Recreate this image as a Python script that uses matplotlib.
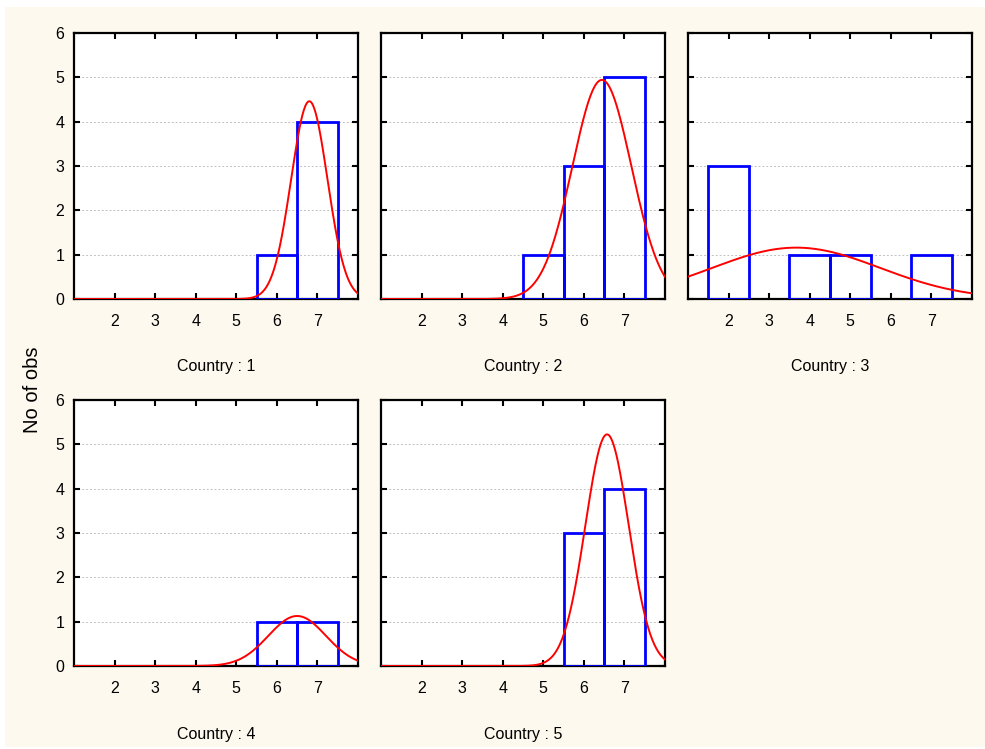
import numpy as np
import matplotlib.pyplot as plt
from matplotlib.patches import Rectangle

plt.rcParams['font.family'] = ['Liberation Sans', 'DejaVu Sans']

# histogram counts per country, bins centred on the integer scores
scores = [1, 2, 3, 4, 5, 6, 7]
counts = {
    1: [0, 0, 0, 0, 0, 1, 4],
    2: [0, 0, 0, 0, 1, 3, 5],
    3: [0, 3, 0, 1, 1, 0, 1],
    4: [0, 0, 0, 0, 0, 1, 1],
    5: [0, 0, 0, 0, 0, 3, 4],
}
xticks = [2, 3, 4, 5, 6, 7]
yticks = [0, 1, 2, 3, 4, 5, 6]

W, H = 985, 749
fig = plt.figure(figsize=(W / 100, H / 100), dpi=100)
fig.patch.set_facecolor('white')
bg = Rectangle((5 / W, 2 / H), 1 - 5 / W, 1 - 9 / H,
               transform=fig.transFigure, facecolor='#fdf9ee',
               edgecolor='none', zorder=-10)
fig.add_artist(bg)

# axes positions in pixels (left, top)
lefts = [74, 381, 688]
tops = [33, 400]
aw, ah = 284, 266

for i, c in enumerate(counts):
    r, col = divmod(i, 3)
    l, t = lefts[col], tops[r]
    ax = fig.add_axes([l / W, 1 - (t + ah) / H, aw / W, ah / H])
    ax.set_facecolor('white')
    cnt = counts[c]
    for s, n in zip(scores, cnt):
        if n > 0:
            ax.bar(s, n, width=1.0, facecolor='none', edgecolor='#0000ff',
                   linewidth=2, zorder=3)
    # normal fit from the data
    vals = np.repeat(scores, cnt)
    mu = vals.mean()
    sd = vals.std(ddof=1)
    xs = np.linspace(1, 8, 400)
    ys = len(vals) * np.exp(-0.5 * ((xs - mu) / sd) ** 2) / (sd * np.sqrt(2 * np.pi))
    ax.plot(xs, ys, color='#ff0000', linewidth=1.4, zorder=4, clip_on=True)

    ax.set_xlim(1, 8)
    ax.set_ylim(0, 6)
    ax.set_xticks(xticks)
    ax.set_yticks(yticks)
    ax.tick_params(direction='in', top=True, right=True, length=4, width=1.5,
                   labelsize=11.5, pad=11)
    ax.tick_params(axis='y', pad=7)
    if col != 0:
        ax.set_yticklabels([])
    ax.yaxis.grid(True, linestyle=(0, (2, 2)), color='#c0c0c0', linewidth=0.7)
    ax.set_axisbelow(True)
    for sp in ax.spines.values():
        sp.set_linewidth(1.6)
    fig.text((l + aw / 2) / W, 1 - (t + ah + 68) / H, f'Country : {c}',
             ha='center', va='center', fontsize=11.5)

fig.text(33 / W, 1 - 390 / H, 'No of obs', rotation=90, ha='center',
         va='center', fontsize=14.5)

fig.savefig('out.png', dpi=100)
